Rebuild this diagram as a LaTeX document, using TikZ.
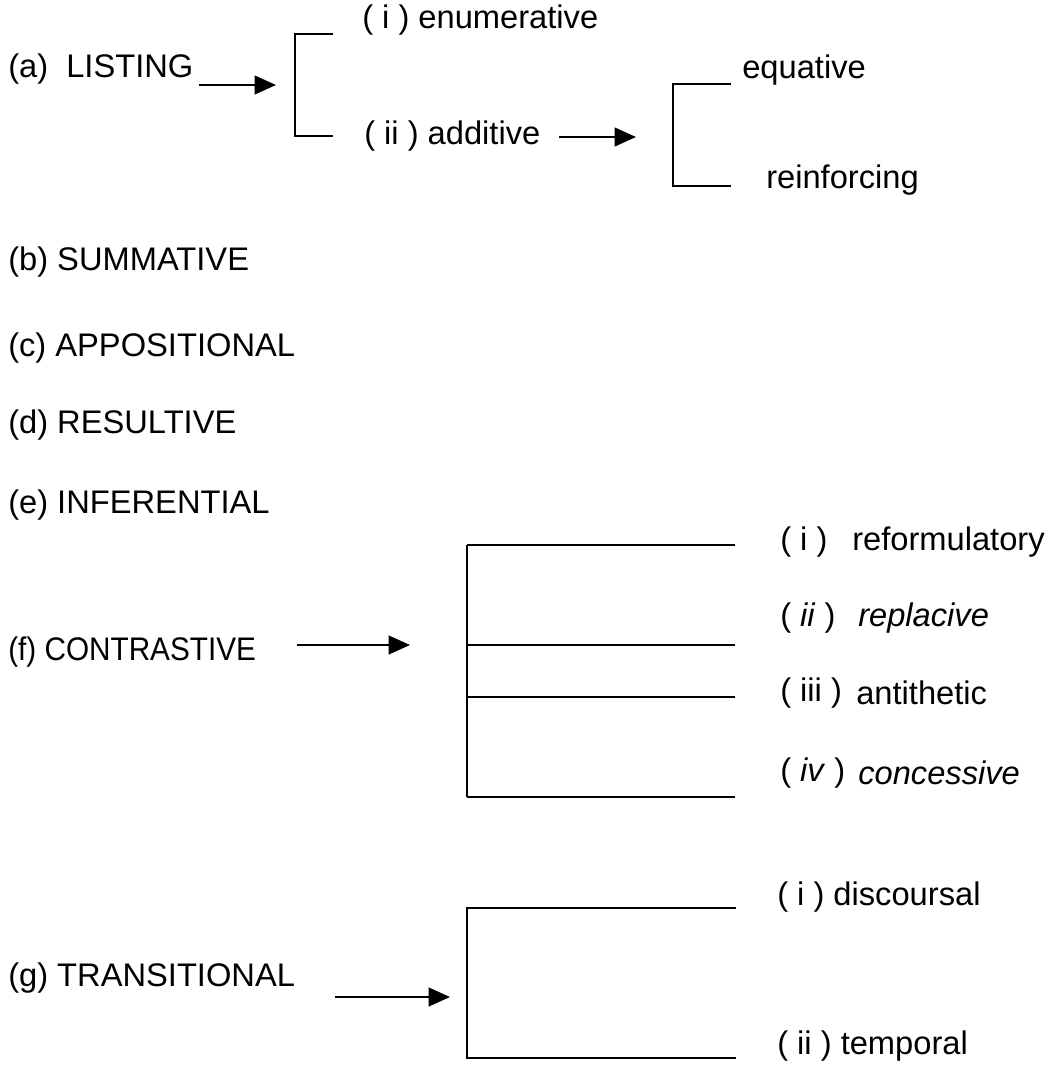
\documentclass[tikz,border=0pt]{standalone}
\usepackage{fontspec}
\setmainfont{Liberation Sans}
\usetikzlibrary{arrows.meta}

\begin{document}
\begin{tikzpicture}[x=0.75pt,y=-0.75pt,
    lbl/.style={anchor=west,inner sep=0pt,font=\fontsize{24.5}{29}\selectfont},
    arr/.style={line width=1.6pt,-{Triangle[length=16pt,width=14pt]}},
    brk/.style={line width=1.4pt}]
    \useasboundingbox (0,0) rectangle (1052,1066);

    % Define points
    \coordinate (A1) at (199,85);
    \coordinate (A2) at (276,85);
    \coordinate (P1) at (295,34);
    \coordinate (P2) at (295,136);
    \coordinate (B1) at (559,137);
    \coordinate (B2) at (636,137);
    \coordinate (Q1) at (673,84);
    \coordinate (Q2) at (673,186);
    \coordinate (F1) at (297,645);
    \coordinate (F2) at (410,645);
    \coordinate (R1) at (467,545);
    \coordinate (R2) at (467,645);
    \coordinate (R3) at (467,697);
    \coordinate (R4) at (467,797);
    \coordinate (G1) at (335,997);
    \coordinate (G2) at (450,997);
    \coordinate (T1) at (467,908);
    \coordinate (T2) at (467,1058);

    % Labels
    \node[lbl] (listing) at (8,69) {(a)\ \ LISTING};
    \node[lbl] (enum) at (362,20) {( i ) enumerative};
    \node[lbl] (addit) at (364,136) {( ii ) additive};
    \node[lbl] (equat) at (742,70) {equative};
    \node[lbl] (reinf) at (766,180) {reinforcing};
    \node[lbl] (summ) at (8,262) {(b) SUMMATIVE};
    \node[lbl] (appos) at (8,348) {(c) APPOSITIONAL};
    \node[lbl] (result) at (8,425) {(d) RESULTIVE};
    \node[lbl] (infer) at (8,505) {(e) INFERENTIAL};
    \node[lbl] (contr) at (8,652) {\scalebox{0.91}[1]{(f) CONTRASTIVE}};
    \node[lbl] (f1n) at (780,542) {( i )};
    \node[lbl] (f1) at (852,542) {reformulatory};
    \node[lbl] (f2n) at (780,618) {( \textit{ii} )};
    \node[lbl] (f2) at (858,618) {\textit{replacive}};
    \node[lbl] (f3n) at (780,693) {( iii )};
    \node[lbl] (f3) at (856,693) {antithetic};
    \node[lbl] (f4n) at (780,773) {( \textit{iv} )};
    \node[lbl] (f4) at (858,773) {\textit{concessive}};
    \node[lbl] (trans) at (8,978) {(g) TRANSITIONAL};
    \node[lbl] (disc) at (777,897) {( i ) discoursal};
    \node[lbl] (temp) at (777,1046) {( ii ) temporal};

    % Draw arrows
    \draw[arr] (A1) -- (A2);
    \draw[arr] (B1) -- (B2);
    \draw[arr] (F1) -- (F2);
    \draw[arr] (G1) -- (G2);

    % Draw brackets
    \draw[brk] (P1) ++(38,0) -- (P1) -- (P2) -- ++(38,0);
    \draw[brk] (Q1) ++(58,0) -- (Q1) -- (Q2) -- ++(58,0);
    \draw[brk] (R1) -- (R4);
    \foreach \p in {R1,R2,R3,R4}
        \draw[brk] (\p) -- ++(268,0);
    \draw[brk] (T1) ++(269,0) -- (T1) -- (T2) -- ++(269,0);
\end{tikzpicture}
\end{document}
